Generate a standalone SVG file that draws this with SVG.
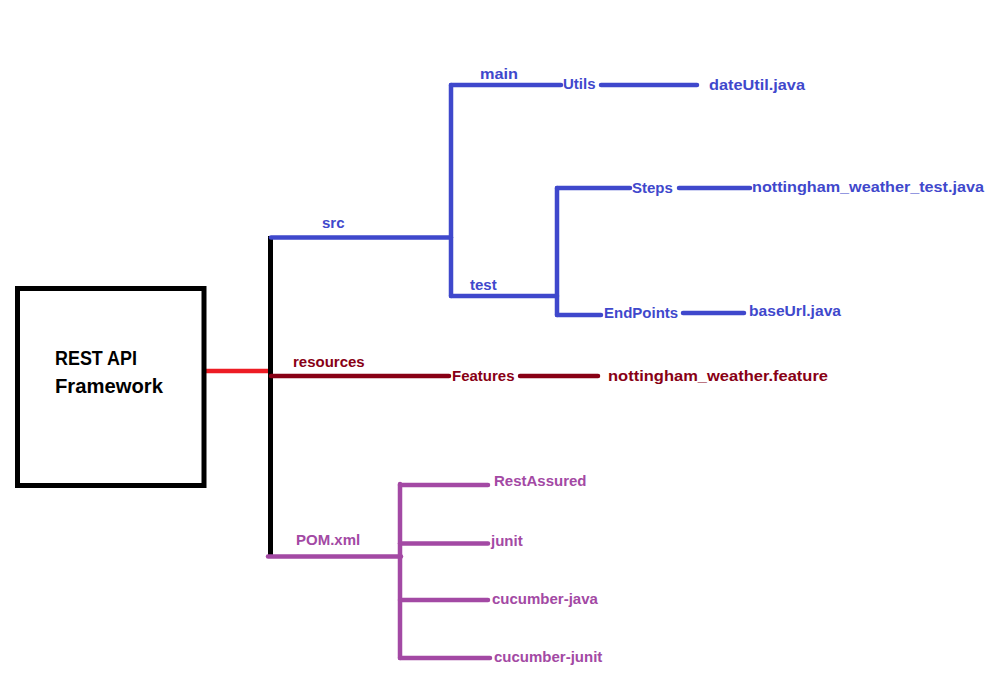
<svg xmlns="http://www.w3.org/2000/svg" width="1005" height="680" viewBox="0 0 1005 680">
  <style>
    text { font-family: "Liberation Sans", Arial, sans-serif; font-weight: bold; font-size: 15px; }
    .ln { fill: none; stroke-width: 4.5; stroke-linecap: round; stroke-linejoin: miter; }
    .blue { stroke: #3F48CC; }
    .blueT { fill: #3F48CC; }
    .dred { stroke: #880015; }
    .dredT { fill: #880015; }
    .purp { stroke: #A349A4; }
    .purpT { fill: #A349A4; }
    .title { font-size: 20px; fill: #000; }
  </style>
  <rect width="1005" height="680" fill="#fff"/>

  <!-- connectors -->
  <g id="connectors">
    <!-- root link -->
    <line x1="204" y1="371" x2="270" y2="371" stroke="#ED1C24" stroke-width="4.5"/>
    <line x1="270.5" y1="236" x2="270.5" y2="555" stroke="#000" stroke-width="5"/>
    <!-- src branch -->
    <path class="ln blue" d="M271 237.5 H451"/>
    <path class="ln blue" d="M451 85 V296"/>
    <path class="ln blue" d="M451 85 H561"/>
    <path class="ln blue" d="M601 85 H697"/>
    <path class="ln blue" d="M451 296 H557"/>
    <path class="ln blue" d="M557 188 V315"/>
    <path class="ln blue" d="M557 188 H630"/>
    <path class="ln blue" d="M679 188 H750"/>
    <path class="ln blue" d="M557 315 H601"/>
    <path class="ln blue" d="M683 313 H744"/>
    <!-- resources branch -->
    <path class="ln dred" d="M271 376 H449"/>
    <path class="ln dred" d="M520 376 H598"/>
    <!-- POM branch -->
    <path class="ln purp" d="M268 556.5 H401"/>
    <path class="ln purp" d="M400 484 V658"/>
    <path class="ln purp" d="M400 485 H488"/>
    <path class="ln purp" d="M400 543.5 H488"/>
    <path class="ln purp" d="M400 600 H488"/>
    <path class="ln purp" d="M400 658 H490"/>
  </g>

  <!-- root node -->
  <g id="node-root">
    <rect x="17.5" y="288.5" width="186.5" height="197" fill="none" stroke="#000" stroke-width="5"/>
    <text class="title" x="55" y="365" textLength="82" lengthAdjust="spacingAndGlyphs">REST API</text>
    <text class="title" x="55" y="392.5" textLength="108" lengthAdjust="spacingAndGlyphs">Framework</text>
  </g>

  <!-- src tree -->
  <g id="node-src"><text class="blueT" x="322" y="228">src</text></g>
  <g id="node-main"><text class="blueT" x="480" y="79" textLength="38" lengthAdjust="spacingAndGlyphs">main</text></g>
  <g id="node-utils"><text class="blueT" x="563" y="89">Utils</text></g>
  <g id="node-dateutil"><text class="blueT" x="709" y="90" textLength="96" lengthAdjust="spacingAndGlyphs">dateUtil.java</text></g>
  <g id="node-test"><text class="blueT" x="470" y="290">test</text></g>
  <g id="node-steps"><text class="blueT" x="632" y="193">Steps</text></g>
  <g id="node-weather-test"><text class="blueT" x="752" y="192" textLength="232" lengthAdjust="spacingAndGlyphs">nottingham_weather_test.java</text></g>
  <g id="node-endpoints"><text class="blueT" x="604" y="318">EndPoints</text></g>
  <g id="node-baseurl"><text class="blueT" x="749" y="316" textLength="92" lengthAdjust="spacingAndGlyphs">baseUrl.java</text></g>

  <!-- resources tree -->
  <g id="node-resources"><text class="dredT" x="293" y="367">resources</text></g>
  <g id="node-features"><text class="dredT" x="452" y="381">Features</text></g>
  <g id="node-feature-file"><text class="dredT" x="608" y="381" textLength="220" lengthAdjust="spacingAndGlyphs">nottingham_weather.feature</text></g>

  <!-- POM tree -->
  <g id="node-pom"><text class="purpT" x="296" y="545">POM.xml</text></g>
  <g id="node-restassured"><text class="purpT" x="494" y="486">RestAssured</text></g>
  <g id="node-junit"><text class="purpT" x="491" y="546">junit</text></g>
  <g id="node-cucumber-java"><text class="purpT" x="492" y="604">cucumber-java</text></g>
  <g id="node-cucumber-junit"><text class="purpT" x="494" y="662">cucumber-junit</text></g>
</svg>
